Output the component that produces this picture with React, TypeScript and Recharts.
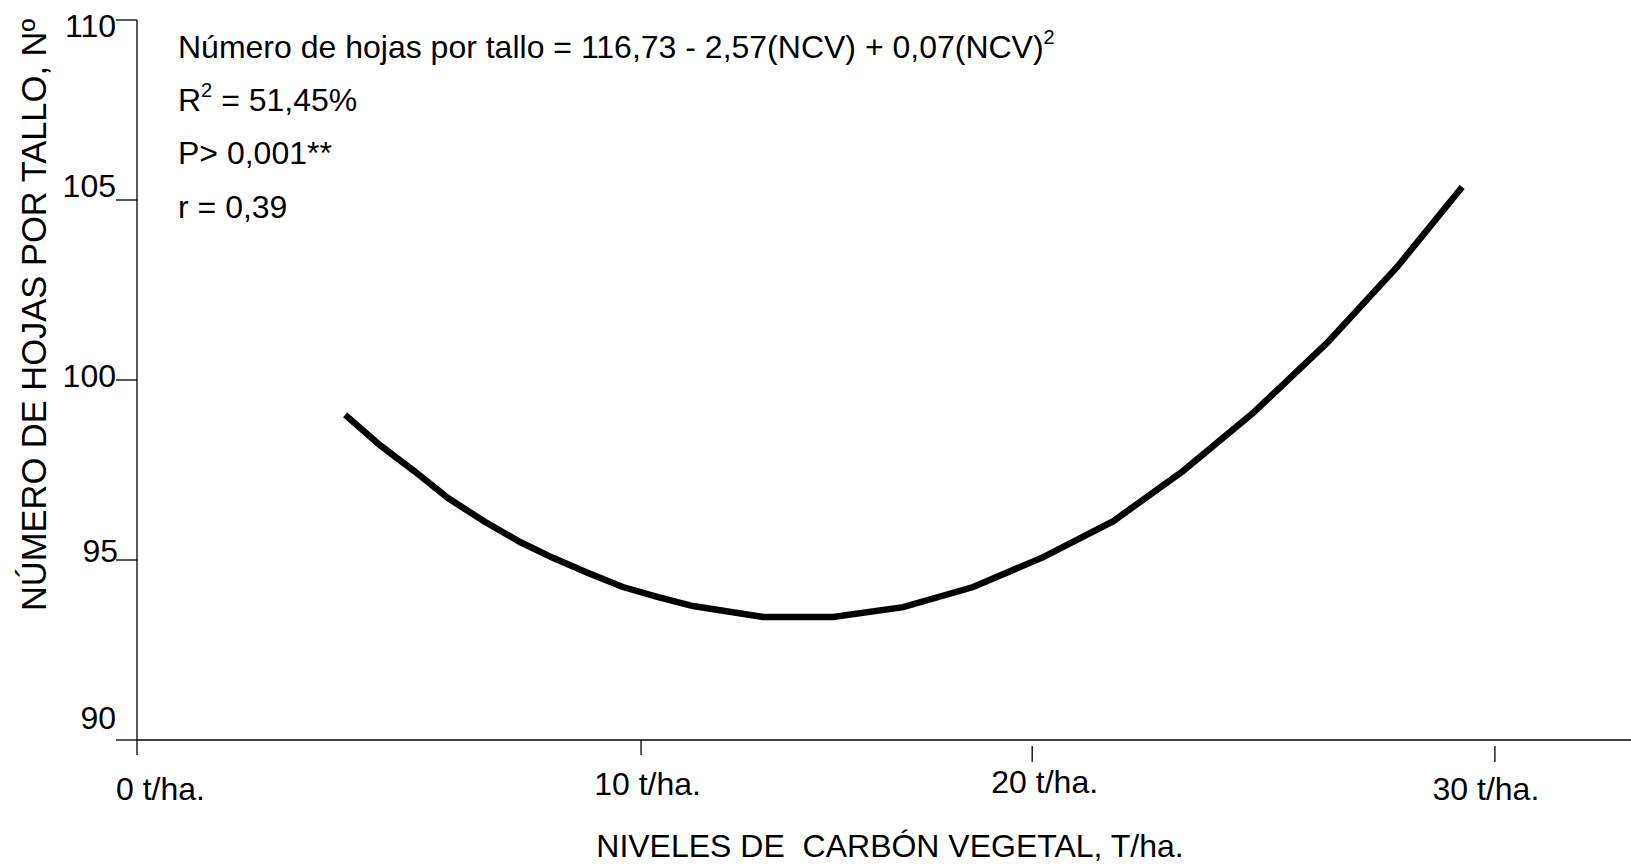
import { Line, LineChart, XAxis, YAxis } from 'recharts';

// curve vertices, x in axis units (0 and 10 t/ha marks), y in leaves per stem
const curveX = [
  4.13, 4.82, 5.5, 6.17, 6.9, 7.6, 8.25, 8.95, 9.64, 10.34, 11.03, 12.42, 13.81, 15.2, 16.59,
  17.98, 19.37, 20.75, 22.14, 23.61, 25.0, 26.29,
];
const curveY = [
  99.03, 98.19, 97.47, 96.72, 96.06, 95.5, 95.06, 94.64, 94.25, 93.97, 93.72, 93.42, 93.42,
  93.69, 94.25, 95.08, 96.08, 97.47, 99.08, 101.03, 103.14, 105.36,
];

// where the x labels sit on the axis (the original spacing is uneven)
const xTickPos = [0, 10, 17.76, 26.94];
const xTickLabels = ['0 t/ha.', '10 t/ha.', '20 t/ha.', '30 t/ha.'];

const yTicks = [90, 95, 100, 105, 110];

const equationLines = [
  'Número de hojas por tallo = 116,73 - 2,57(NCV) + 0,07(NCV)',
  '= 51,45%',
  'P> 0,001**',
  'r = 0,39',
];

const FONT = '"Liberation Sans", Arial, sans-serif';

// hand-placed label offsets copied from the figure
const xNudge = [
  { dx: 23.5, dy: 60, t0: 0, t1: 15 },
  { dx: 6.5, dy: 55, t0: 0, t1: 15 },
  { dx: 12.5, dy: 53, t0: 6, t1: 22 },
  { dx: -9, dy: 60, t0: 6, t1: 22 },
];
const yNudge: Record<number, { dx: number; dy: number }> = {
  90: { dx: 0, dy: -11.5 },
  95: { dx: 2, dy: 1.5 },
  100: { dx: 0, dy: 6.5 },
  105: { dx: 0, dy: -3.5 },
  110: { dx: 0, dy: 16.5 },
};

const data = curveX.map((x, i) => ({ x, y: curveY[i] }));

function XTick(props: any) {
  const { x, y, index } = props;
  const n = xNudge[index] ?? { dx: 0, dy: 55, t0: 0, t1: 15 };
  return (
    <g>
      <line x1={x} x2={x} y1={y + n.t0} y2={y + n.t1} stroke="#000" strokeWidth={1.3} />
      <text x={x + n.dx} y={y + n.dy} textAnchor="middle" fontSize={32} fontFamily={FONT} fill="#000">
        {xTickLabels[index]}
      </text>
    </g>
  );
}

function YTick(props: any) {
  const { x, y, payload } = props;
  const n = yNudge[payload.value] ?? { dx: 0, dy: 11 };
  return (
    <text x={x + n.dx} y={y + n.dy} textAnchor="end" fontSize={32} fontFamily={FONT} fill="#000">
      {payload.value}
    </text>
  );
}

export default function App() {
  return (
    <div style={{ position: 'absolute', left: 0, top: 0, background: '#fff' }}>
      <LineChart width={1631} height={864} data={data} margin={{ top: 20, right: 0, bottom: 0, left: 0 }}>
        <XAxis
          type="number"
          dataKey="x"
          domain={[0, 29.64]}
          ticks={xTickPos}
          interval={0}
          height={124}
          tickSize={0}
          tickMargin={0}
          tickLine={false}
          axisLine={{ stroke: '#000', strokeWidth: 1.3 }}
          tick={(p: any) => <XTick {...p} />}
        />
        <YAxis
          type="number"
          domain={[90, 110]}
          ticks={yTicks}
          interval={0}
          width={137}
          tickSize={21}
          tickMargin={0}
          tickLine={{ stroke: '#000', strokeWidth: 1.3 }}
          axisLine={{ stroke: '#000', strokeWidth: 1.3 }}
          tick={(p: any) => <YTick {...p} />}
        />
        <Line
          type="linear"
          dataKey="y"
          stroke="#000"
          strokeWidth={6.5}
          dot={false}
          activeDot={false}
          isAnimationActive={false}
        />
        <g fontFamily={FONT} fontSize={32} fill="#000">
          <text x={178} y={58}>
            {equationLines[0]}
            <tspan fontSize={20} dy={-14}>2</tspan>
          </text>
          <text x={178} y={111}>
            R<tspan fontSize={20} dy={-14}>2</tspan>
            <tspan dy={14}> {equationLines[1]}</tspan>
          </text>
          <text x={178} y={164}>{equationLines[2]}</text>
          <text x={178} y={218}>{equationLines[3]}</text>
          <text x={890} y={857} textAnchor="middle" xmlSpace="preserve">
            NIVELES DE  CARBÓN VEGETAL, T/ha.
          </text>
          <text transform="translate(46 315) rotate(-90)" textAnchor="middle" fontSize={34.5}>
            NÚMERO DE HOJAS POR TALLO, Nº
          </text>
        </g>
      </LineChart>
    </div>
  );
}
